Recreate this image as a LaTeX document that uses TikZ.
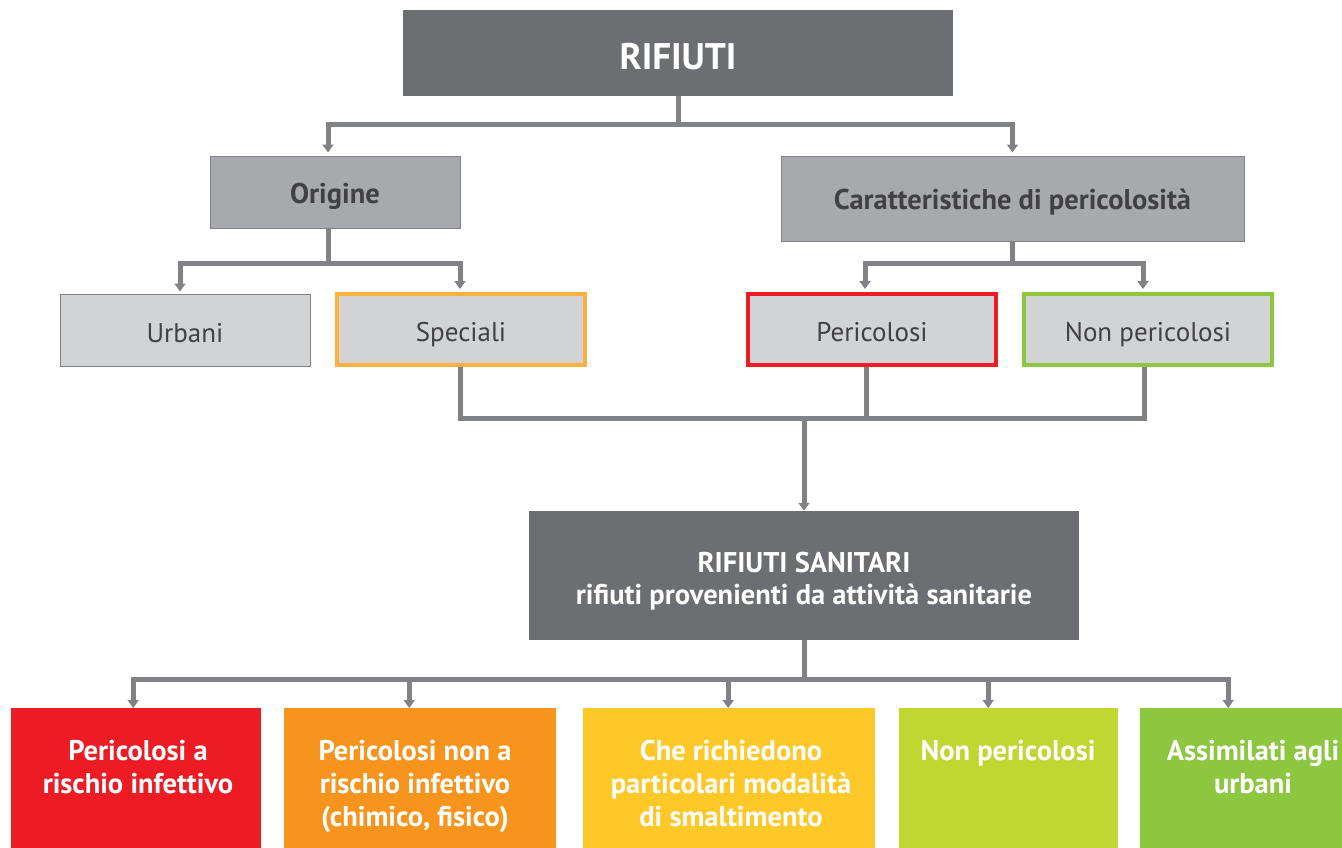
\documentclass[tikz,border=0pt]{standalone}
\usepackage{fontspec}
\setmainfont{PT Sans}
\usetikzlibrary{arrows.meta}
\definecolor{dgray}{HTML}{6D6E71}
\definecolor{mgray}{HTML}{A7A9AC}
\definecolor{lgray}{HTML}{D1D3D4}
\definecolor{cgray}{HTML}{808285}
\definecolor{tgray}{HTML}{414042}
\definecolor{cred}{HTML}{ED1C24}
\definecolor{corb}{HTML}{FBB040}
\definecolor{corf}{HTML}{F7941D}
\definecolor{cyel}{HTML}{FFC829}
\definecolor{clime}{HTML}{BFD730}
\definecolor{cgreen}{HTML}{8DC63F}
\tikzset{
  conn/.style={draw=cgray, line width=5pt},
  arr/.style={conn, -{Triangle[width=11pt,length=8pt]}},
  darkbox/.style={fill=dgray, draw=none, text=white, align=center, inner sep=0pt},
  midbox/.style={fill=mgray, draw=cgray, line width=1pt, text=tgray, inner sep=0pt,
     text height=22pt, text depth=0pt,
     font=\bfseries\fontsize{28.5}{32}\selectfont},
  lightbox/.style={fill=lgray, draw=cgray, line width=1pt, text=tgray, inner sep=0pt,
     text height=24pt, text depth=0pt,
     font=\fontsize{27}{32}\selectfont},
  framebox/.style={lightbox, line width=4pt},
  colbox/.style={draw=none, inner sep=0pt, anchor=north west},
  coltext/.style={text=white, align=center, inner sep=0pt, anchor=north,
     font=\bfseries\fontsize{28.5}{33}\selectfont},
}
\begin{document}
\begin{tikzpicture}[x=1pt,y=-1pt]
\useasboundingbox (0,0) rectangle (1342,847);
\clip (0,0) rectangle (1342,847);
% top
\node[darkbox, minimum width=550pt, minimum height=86pt] (rif) at (678,53) {};
\node[text=white, inner sep=0pt, font=\bfseries\fontsize{37}{40}\selectfont] (rift) at ([yshift=-4pt]rif.center) {RIFIUTI};
\node[midbox, minimum width=250pt, minimum height=72pt] (orig) at (335,192) {Origine};
\node[midbox, minimum width=463pt, minimum height=85pt] (car) at (1012.5,198.5) {Caratteristiche di pericolosità};
\node[lightbox, minimum width=250pt, minimum height=72pt] (urb) at (185,330) {Urbani};
\node[framebox, draw=corb, minimum width=248pt, minimum height=71pt] (spec) at (461,329.5) {Speciali};
\node[framebox, draw=cred, minimum width=248pt, minimum height=71pt] (per) at (872,329.5) {Pericolosi};
\node[framebox, draw=cgreen, minimum width=248pt, minimum height=71pt] (nper) at (1148,329.5) {Non pericolosi};
\node[darkbox, minimum width=550pt, minimum height=129pt] (san) at (804,575.5) {};
\node[text=white, align=center, inner sep=0pt, font=\bfseries\fontsize{28.5}{32}\selectfont] (sant) at ([yshift=-6pt]san.center) {RIFIUTI SANITARI\\rifiuti provenienti da attività sanitarie};
% bottom boxes
\node[colbox, fill=cred, minimum width=250pt, minimum height=150pt] (b1) at (11,708) {};
\node[colbox, fill=corf, minimum width=272pt, minimum height=150pt] (b2) at (284,708) {};
\node[colbox, fill=cyel, minimum width=292pt, minimum height=150pt] (b3) at (583,708) {};
\node[colbox, fill=clime, minimum width=219pt, minimum height=150pt] (b4) at (899,708) {};
\node[colbox, fill=cgreen, minimum width=226pt, minimum height=150pt] (b5) at (1140,708) {};
\node[coltext] (t1) at (138,740) {Pericolosi a\\rischio infettivo};
\node[coltext] (t2) at (415,740) {Pericolosi non a\\rischio infettivo\\(chimico, fisico)};
\node[coltext] (t3) at (731,740) {Che richiedono\\particolari modalità\\di smaltimento};
\node[coltext] (t4) at (1008,740) {Non pericolosi};
\node[coltext] (t5) at (1253,740) {Assimilati agli\\urbani};
% connectors
\draw[conn] (rif.south) -- ++(0,28) coordinate (j1);
\draw[arr] (j1) -| ([xshift=-7pt,yshift=3pt]orig.north);
\draw[arr] (j1) -| ([yshift=3pt]car.north);
\draw[conn] ([xshift=-7pt]orig.south) -- ++(0,35) coordinate (j2);
\draw[arr] (j2) -| ([xshift=-5pt,yshift=2pt]urb.north);
\draw[arr] (j2) -| ([xshift=-1pt,yshift=3pt]spec.north);
\draw[conn] (car.south) -- ++(0,22) coordinate (j3);
\draw[arr] (j3) -| ([xshift=-7pt,yshift=3pt]per.north);
\draw[arr] (j3) -| ([xshift=-5pt,yshift=3pt]nper.north);
\coordinate (m) at (804,418);
\draw[conn] ([xshift=-1pt]spec.south) |- (m);
\draw[conn] ([xshift=-4pt]nper.south) |- (m);
\draw[conn] ([xshift=-6pt]per.south) -- ([xshift=-6pt]per.south |- m);
\draw[arr] (m) -- (san.north);
\draw[conn] (san.south) -- ++(0,39) coordinate (j4);
\draw[arr] (j4) -| ([xshift=-3pt]b1.north);
\draw[arr] (j4) -| ([xshift=-11pt]b2.north);
\draw[arr] (j4) -| ([xshift=-1pt]b3.north);
\draw[arr] (j4) -| ([xshift=-20.5pt]b4.north);
\draw[arr] (j4) -| ([xshift=-25pt]b5.north);
\end{tikzpicture}
\end{document}
